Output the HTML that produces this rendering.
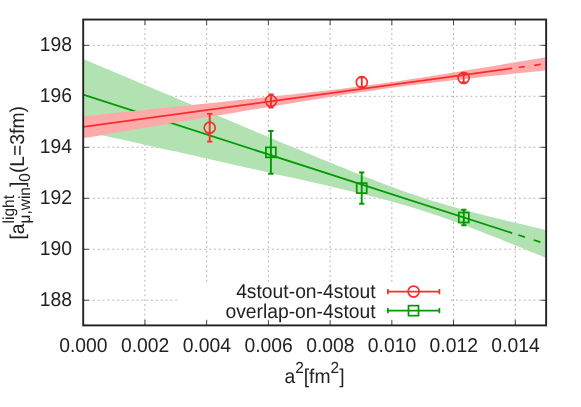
<!DOCTYPE html>
<html><head><meta charset="utf-8"><title>plot</title>
<style>
html,body{margin:0;padding:0;background:#fff;}
body{width:581px;height:407px;overflow:hidden;}
svg{display:block;will-change:transform;}
text{font-family:"Liberation Sans",sans-serif;fill:#222;text-rendering:geometricPrecision;}
</style></head><body>
<svg width="581" height="407" viewBox="0 0 581 407">
<rect x="0" y="0" width="581" height="407" fill="#fff"/>
<defs><clipPath id="c"><rect x="83.2" y="19.55" width="462.95" height="305.85"/></clipPath></defs>
<path d="M144.93 325.40V19.55M206.65 325.40V19.55M268.38 325.40V19.55M330.11 325.40V19.55M391.83 325.40V19.55M453.56 325.40V19.55M515.29 325.40V19.55M83.20 300.23H546.15M83.20 249.25H546.15M83.20 198.27H546.15M83.20 147.29H546.15M83.20 96.31H546.15M83.20 45.33H546.15" fill="none" stroke="#ababab" stroke-width="0.9" stroke-dasharray="1.9 2.94" stroke-dashoffset="-0.1"/>
<path d="M144.93 325.40v-5.6M144.93 19.55v5.6M206.65 325.40v-5.6M206.65 19.55v5.6M268.38 325.40v-5.6M268.38 19.55v5.6M330.11 325.40v-5.6M330.11 19.55v5.6M391.83 325.40v-5.6M391.83 19.55v5.6M453.56 325.40v-5.6M453.56 19.55v5.6M515.29 325.40v-5.6M515.29 19.55v5.6M83.20 300.23h5.6M546.15 300.23h-5.6M83.20 249.25h5.6M546.15 249.25h-5.6M83.20 198.27h5.6M546.15 198.27h-5.6M83.20 147.29h5.6M546.15 147.29h-5.6M83.20 96.31h5.6M546.15 96.31h-5.6M83.20 45.33h5.6M546.15 45.33h-5.6" fill="none" stroke="#3c3c3c" stroke-width="0.95"/>
<g clip-path="url(#c)">
<path d="M83.20 58.89L90.92 62.16L98.63 65.43L106.35 68.70L114.06 71.96L121.78 75.23L129.50 78.50L137.21 81.76L144.93 85.02L152.64 88.29L160.36 91.55L168.07 94.81L175.79 98.07L183.51 101.32L191.22 104.58L198.94 107.83L206.65 111.08L214.37 114.34L222.09 117.58L229.80 120.83L237.52 124.07L245.23 127.31L252.95 130.55L260.66 133.78L268.38 137.00L276.10 140.23L283.81 143.44L291.53 146.65L299.24 149.86L306.96 153.05L314.68 156.23L322.39 159.41L330.11 162.56L337.82 165.70L345.54 168.83L353.25 171.93L360.97 175.00L368.69 178.03L376.40 181.03L384.12 183.98L391.83 186.87L399.55 189.70L407.26 192.45L414.98 195.11L422.70 197.68L430.41 200.16L438.13 202.53L445.84 204.82L453.56 207.02L461.28 209.15L468.99 211.22L476.71 213.23L484.42 215.20L492.14 217.13L499.85 219.02L507.57 220.89L515.29 222.74L523.00 224.57L530.72 226.39L538.43 228.19L546.15 229.98L546.15 258.02L538.43 254.84L530.72 251.66L523.00 248.50L515.29 245.35L507.57 242.22L499.85 239.12L492.14 236.04L484.42 232.99L476.71 229.98L468.99 227.02L461.28 224.10L453.56 221.26L445.84 218.48L438.13 215.80L430.41 213.20L422.70 210.69L414.98 208.29L407.26 205.97L399.55 203.75L391.83 201.59L384.12 199.51L376.40 197.50L368.69 195.57L360.97 193.67L353.25 191.81L345.54 189.97L337.82 188.16L330.11 186.37L322.39 184.59L314.68 182.83L306.96 181.08L299.24 179.34L291.53 177.60L283.81 175.88L276.10 174.14L268.38 172.39L260.66 170.64L252.95 168.89L245.23 167.15L237.52 165.41L229.80 163.68L222.09 161.95L214.37 160.22L206.65 158.49L198.94 156.77L191.22 155.05L183.51 153.32L175.79 151.60L168.07 149.89L160.36 148.17L152.64 146.45L144.93 144.74L137.21 143.03L129.50 141.31L121.78 139.60L114.06 137.89L106.35 136.18L98.63 134.47L90.92 132.77L83.20 131.06Z" fill="#b2e2b2"/>
<path d="M83.2 94.70L512.2 233.05M518.3 235.02L524.9 237.15M533.8 240.02L540.4 242.15" stroke="#009900" stroke-width="1.75" fill="none"/>
<path d="M83.20 116.23L90.92 115.44L98.63 114.65L106.35 113.86L114.06 113.07L121.78 112.28L129.50 111.49L137.21 110.69L144.93 109.90L152.64 109.11L160.36 108.31L168.07 107.51L175.79 106.72L183.51 105.92L191.22 105.12L198.94 104.31L206.65 103.51L214.37 102.71L222.09 101.90L229.80 101.09L237.52 100.27L245.23 99.46L252.95 98.64L260.66 97.82L268.38 96.99L276.10 96.15L283.81 95.31L291.53 94.46L299.24 93.61L306.96 92.74L314.68 91.86L322.39 90.97L330.11 90.07L337.82 89.14L345.54 88.20L353.25 87.24L360.97 86.25L368.69 85.23L376.40 84.19L384.12 83.12L391.83 82.02L399.55 80.90L407.26 79.75L414.98 78.58L422.70 77.40L430.41 76.19L438.13 74.98L445.84 73.75L453.56 72.51L461.28 71.25L468.99 70.00L476.71 68.73L484.42 67.46L492.14 66.18L499.85 64.90L507.57 63.62L515.29 62.33L523.00 61.04L530.72 59.74L538.43 58.45L546.15 57.15L546.15 70.35L538.43 71.16L530.72 71.96L523.00 72.77L515.29 73.58L507.57 74.40L499.85 75.22L492.14 76.04L484.42 76.87L476.71 77.70L468.99 78.54L461.28 79.38L453.56 80.23L445.84 81.11L438.13 82.00L430.41 82.90L422.70 83.82L414.98 84.76L407.26 85.72L399.55 86.70L391.83 87.74L384.12 88.81L376.40 89.90L368.69 91.02L360.97 92.17L353.25 93.35L345.54 94.54L337.82 95.74L330.11 96.96L322.39 98.20L314.68 99.45L306.96 100.72L299.24 102.00L291.53 103.25L283.81 104.50L276.10 105.76L268.38 107.03L260.66 108.31L252.95 109.59L245.23 110.87L237.52 112.16L229.80 113.45L222.09 114.74L214.37 116.04L206.65 117.34L198.94 118.63L191.22 119.94L183.51 121.24L175.79 122.54L168.07 123.85L160.36 125.16L152.64 126.46L144.93 127.77L137.21 129.08L129.50 130.39L121.78 131.70L114.06 133.02L106.35 134.33L98.63 135.64L90.92 136.96L83.20 138.27Z" fill="#ffaaaa"/>
<path d="M83.2 126.85L512.2 68.38M518.6 67.50L524.8 66.66M534.2 65.38L540.8 64.48" stroke="#ff2a2a" stroke-width="1.75" fill="none"/>
</g>
<rect x="177.5" y="282" width="272.5" height="43.40" fill="#fff"/>
<path d="M206.65 325.40v-5.6M268.38 325.40v-5.6M330.11 325.40v-5.6M391.83 325.40v-5.6" fill="none" stroke="#3c3c3c" stroke-width="0.95"/>
<path d="M270.90 130.95V173.75M268.30 130.95h5.2M268.30 173.75h5.2" stroke="#009900" stroke-width="1.85" fill="none"/>
<rect x="265.90" y="147.35" width="10.0" height="10.0" stroke="#009900" stroke-width="1.7" fill="none"/>
<path d="M361.70 172.50V203.70M359.10 172.50h5.2M359.10 203.70h5.2" stroke="#009900" stroke-width="1.85" fill="none"/>
<rect x="356.70" y="183.10" width="10.0" height="10.0" stroke="#009900" stroke-width="1.7" fill="none"/>
<path d="M463.80 209.75V225.25M461.20 209.75h5.2M461.20 225.25h5.2" stroke="#009900" stroke-width="1.85" fill="none"/>
<rect x="458.80" y="212.50" width="10.0" height="10.0" stroke="#009900" stroke-width="1.7" fill="none"/>
<path d="M209.70 113.80V141.60M207.10 113.80h5.2M207.10 141.60h5.2" stroke="#ff2a2a" stroke-width="1.85" fill="none"/>
<circle cx="209.70" cy="127.70" r="5.5" stroke="#ff2a2a" stroke-width="1.7" fill="none"/>
<path d="M271.00 94.30V107.50M268.40 94.30h5.2M268.40 107.50h5.2" stroke="#ff2a2a" stroke-width="1.85" fill="none"/>
<circle cx="271.00" cy="100.90" r="5.5" stroke="#ff2a2a" stroke-width="1.7" fill="none"/>
<path d="M361.80 77.20V87.20M359.20 77.20h5.2M359.20 87.20h5.2" stroke="#ff2a2a" stroke-width="1.85" fill="none"/>
<circle cx="361.80" cy="82.20" r="5.5" stroke="#ff2a2a" stroke-width="1.7" fill="none"/>
<path d="M463.65 73.40V82.40M461.05 73.40h5.2M461.05 82.40h5.2" stroke="#ff2a2a" stroke-width="1.85" fill="none"/>
<circle cx="463.65" cy="77.90" r="5.5" stroke="#ff2a2a" stroke-width="1.7" fill="none"/>
<path d="M387.85 291.6H439.4M387.85 289.0v5.2M439.4 289.0v5.2" stroke="#ff2a2a" stroke-width="1.7" fill="none"/>
<circle cx="413.60" cy="291.55" r="5.5" stroke="#ff2a2a" stroke-width="1.7" fill="none"/>
<path d="M387.85 310.7H439.4M387.85 308.09999999999997v5.2M439.4 308.09999999999997v5.2" stroke="#009900" stroke-width="1.7" fill="none"/>
<rect x="408.50" y="305.65" width="10.0" height="10.0" stroke="#009900" stroke-width="1.7" fill="none"/>
<text transform="translate(375.60 298.10) scale(0.965 1)" font-size="20.00" text-anchor="end">4stout-on-4stout</text>
<text transform="translate(375.60 317.70) scale(0.965 1)" font-size="20.00" text-anchor="end">overlap-on-4stout</text>
<rect x="83.2" y="19.55" width="462.95" height="305.85" fill="none" stroke="#222" stroke-width="1.9"/>
<text transform="translate(71.90 306.38) scale(0.965 1)" font-size="20.00" text-anchor="end">188</text>
<text transform="translate(71.90 255.40) scale(0.965 1)" font-size="20.00" text-anchor="end">190</text>
<text transform="translate(71.90 204.42) scale(0.965 1)" font-size="20.00" text-anchor="end">192</text>
<text transform="translate(71.90 153.44) scale(0.965 1)" font-size="20.00" text-anchor="end">194</text>
<text transform="translate(71.90 102.46) scale(0.965 1)" font-size="20.00" text-anchor="end">196</text>
<text transform="translate(71.90 51.48) scale(0.965 1)" font-size="20.00" text-anchor="end">198</text>
<text transform="translate(83.40 351.90) scale(0.965 1)" font-size="20.00" text-anchor="middle">0.000</text>
<text transform="translate(145.13 351.90) scale(0.965 1)" font-size="20.00" text-anchor="middle">0.002</text>
<text transform="translate(206.85 351.90) scale(0.965 1)" font-size="20.00" text-anchor="middle">0.004</text>
<text transform="translate(268.58 351.90) scale(0.965 1)" font-size="20.00" text-anchor="middle">0.006</text>
<text transform="translate(330.31 351.90) scale(0.965 1)" font-size="20.00" text-anchor="middle">0.008</text>
<text transform="translate(392.03 351.90) scale(0.965 1)" font-size="20.00" text-anchor="middle">0.010</text>
<text transform="translate(453.76 351.90) scale(0.965 1)" font-size="20.00" text-anchor="middle">0.012</text>
<text transform="translate(515.49 351.90) scale(0.965 1)" font-size="20.00" text-anchor="middle">0.014</text>
<text transform="translate(284.4 383.0) scale(0.965 1)" font-size="20.0">a<tspan font-size="16.00" dy="-10.3">2</tspan><tspan font-size="20.0" dy="10.3">[fm</tspan><tspan font-size="16.00" dy="-10.3">2</tspan><tspan font-size="20.0" dy="10.3">]</tspan></text>
<g transform="translate(24.1 239.5) rotate(-90)">
<text transform="translate(0.00 0.00) scale(0.965 1)" font-size="20.00" text-anchor="start">[a</text>
<text transform="translate(16.10 -10.30) scale(0.965 1)" font-size="16.00" text-anchor="start">light</text>
<text transform="translate(16.10 5.50) scale(0.965 1)" font-size="16.00" text-anchor="start">μ,win</text>
<text transform="translate(52.44 0.00) scale(0.965 1)" font-size="20.00" text-anchor="start">]</text>
<text transform="translate(57.81 5.50) scale(0.965 1)" font-size="16.00" text-anchor="start">0</text>
<text transform="translate(66.39 0.00) scale(0.965 1)" font-size="20.00" text-anchor="start">(L=3fm)</text>
</g>
</svg></body></html>
